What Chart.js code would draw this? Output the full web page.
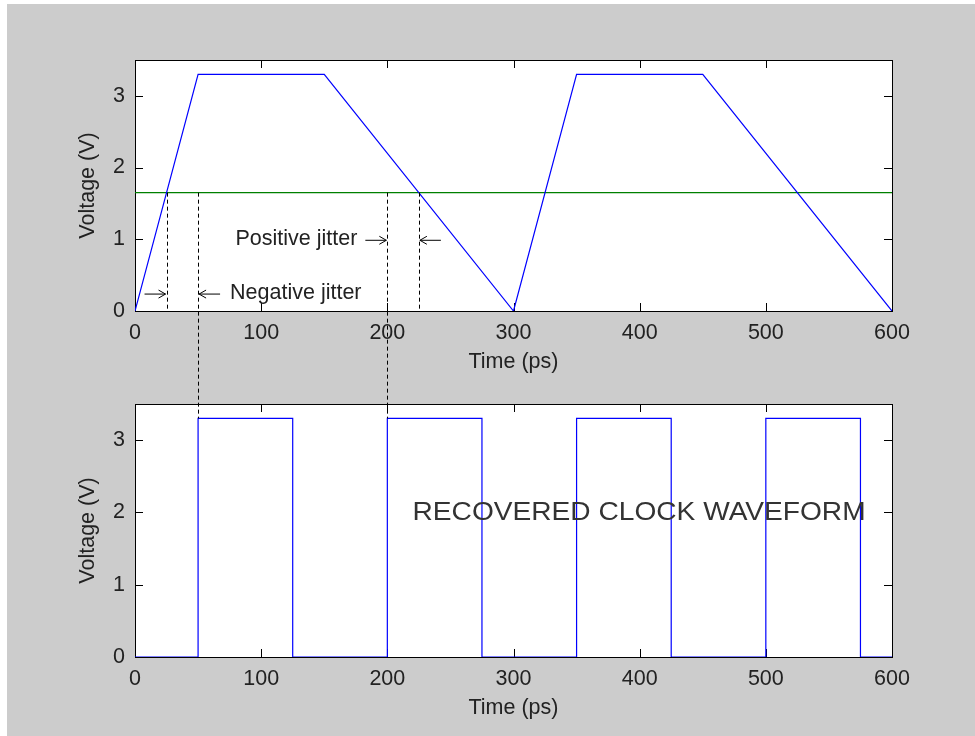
<!DOCTYPE html>
<html>
<head>
<meta charset="utf-8">
<script src="https://cdn.jsdelivr.net/npm/chart.js@4.4.1/dist/chart.umd.min.js"></script>
<style>
  html, body { margin: 0; padding: 0; background: #fff; }
  #fig { position: absolute; left: 7px; top: 4px; width: 968px; height: 732px; background: #cccccc; }
  canvas { position: absolute; left: 0; top: 0; }
</style>
</head>
<body>
<div id="fig"></div>
<canvas id="bottomChart" width="975" height="736"></canvas>
<canvas id="topChart" width="975" height="736"></canvas>
<script>
// input waveform (ps, V)
const rampT = [0, 50, 150, 300, 350, 450, 600];
const rampV = [0, 3.3, 3.3, 0, 3.3, 3.3, 0];
// decision threshold
const thresholdV = 1.65;
// recovered clock, value holds until next edge
const clockT = [0, 50, 125, 200, 275, 350, 425, 500, 575, 600];
const clockV = [0, 3.3, 0, 3.3, 0, 3.3, 0, 3.3, 0, 0];
// threshold crossings and the clock edges they are compared with
const crossT = [25, 225];
const edgeT = [50, 200];
const edgeHighV = 3.3;
// jitter labels: text, x, y
const negLabel = ["Negative jitter", 50, 0.25];
const posLabel = ["Positive jitter", 200, 1];
const clockLabel = ["RECOVERED CLOCK WAVEFORM", 220, 2];

const xTicks = [0, 100, 200, 300, 400, 500, 600];
const yTicks = [0, 1, 2, 3];

const FAMILY = "'Liberation Sans', Arial, sans-serif";
const FONT = { family: FAMILY, size: 21.5 };
const INK = "#222";

function pts(xs, ys) {
  return xs.map((x, i) => ({ x: x, y: ys[i] }));
}

// white plot box, black frame, inward ticks on all four sides (matlab look)
const frame = {
  id: "frame",
  beforeDatasetsDraw(chart) {
    const { ctx, chartArea: a, scales } = chart;
    ctx.save();
    ctx.fillStyle = "#fff";
    ctx.fillRect(a.left, a.top, a.right - a.left, a.bottom - a.top);
    ctx.strokeStyle = "#000";
    ctx.lineWidth = 1;
    ctx.beginPath();
    xTicks.forEach(v => {
      const px = Math.round(scales.x.getPixelForValue(v)) + 0.5;
      ctx.moveTo(px, a.bottom); ctx.lineTo(px, a.bottom - 8);
      ctx.moveTo(px, a.top); ctx.lineTo(px, a.top + 8);
    });
    yTicks.forEach(v => {
      const py = Math.round(scales.y.getPixelForValue(v)) + 0.5;
      ctx.moveTo(a.left, py); ctx.lineTo(a.left + 8, py);
      ctx.moveTo(a.right, py); ctx.lineTo(a.right - 8, py);
    });
    ctx.stroke();
    ctx.strokeRect(Math.round(a.left) + 0.5, Math.round(a.top) + 0.5,
      Math.round(a.right - a.left), Math.round(a.bottom - a.top));
    ctx.restore();
  }
};

function arrow(ctx, x0, x1, y) {
  const dir = Math.sign(x1 - x0);
  ctx.beginPath();
  ctx.moveTo(x0, y); ctx.lineTo(x1, y);
  ctx.moveTo(x1 - dir * 7, y - 4); ctx.lineTo(x1, y); ctx.lineTo(x1 - dir * 7, y + 4);
  ctx.stroke();
}

function makeOptions(padTop, padBottom) {
  return {
    responsive: false,
    animation: false,
    devicePixelRatio: 1,
    layout: { padding: { left: 75, right: 83, top: padTop, bottom: padBottom } },
    plugins: { legend: { display: false }, tooltip: { enabled: false } },
    scales: {
      x: {
        type: "linear", min: 0, max: 600,
        afterBuildTicks: s => { s.ticks = xTicks.map(v => ({ value: v })); },
        afterFit: s => { s.height = 64; },
        grid: { display: false, drawTicks: false },
        border: { display: false },
        ticks: { font: FONT, color: INK, padding: 9, maxRotation: 0, autoSkip: false },
        title: { display: true, text: "Time (ps)", font: FONT, color: INK, padding: 0 }
      },
      y: {
        type: "linear", min: 0, max: 3.5,
        afterBuildTicks: s => { s.ticks = yTicks.map(v => ({ value: v })); },
        afterFit: s => { s.width = 60; },
        grid: { display: false, drawTicks: false },
        border: { display: false },
        ticks: { font: FONT, color: INK, padding: 10 },
        title: { display: true, text: "Voltage (V)", font: FONT, color: INK, padding: 0 }
      }
    }
  };
}

// bottom: recovered clock
const clockText = {
  id: "clockText",
  afterDatasetsDraw(chart) {
    const { ctx, scales } = chart;
    const x = scales.x.getPixelForValue(clockLabel[1]);
    const y = scales.y.getPixelForValue(clockLabel[2]);
    ctx.save();
    ctx.font = "25px " + FAMILY;
    ctx.fillStyle = "#333";
    ctx.textBaseline = "middle";
    const w = ctx.measureText(clockLabel[0]).width;
    ctx.translate(x, y);
    ctx.scale(453 / w, 1);
    ctx.fillText(clockLabel[0], 0, 1);
    ctx.restore();
  }
};

const bottomChart = new Chart(document.getElementById("bottomChart"), {
  type: "line",
  data: {
    datasets: [{
      data: pts(clockT, clockV),
      borderColor: "#0000ff", borderWidth: 1.2, pointRadius: 0, stepped: "before", fill: false
    }]
  },
  options: makeOptions(404, 15),
  plugins: [frame, clockText]
});

// top: input waveform, threshold, jitter annotations
const jitter = {
  id: "jitter",
  afterDraw(chart) {
    const { ctx, scales } = chart;
    const X = v => scales.x.getPixelForValue(v);
    const Y = v => scales.y.getPixelForValue(v);
    const yTh = Y(thresholdV);
    const yZero = Y(0);
    const yClock = bottomChart.scales.y.getPixelForValue(edgeHighV);
    ctx.save();
    ctx.strokeStyle = "#000";
    ctx.lineWidth = 1;
    ctx.setLineDash([4, 3]);
    ctx.beginPath();
    crossT.forEach(t => {
      const px = Math.round(X(t)) + 0.5;
      ctx.moveTo(px, yTh); ctx.lineTo(px, yZero);
    });
    edgeT.forEach(t => {
      const px = Math.round(X(t)) + 0.5;
      ctx.moveTo(px, yTh); ctx.lineTo(px, yClock);
    });
    ctx.stroke();
    ctx.setLineDash([]);

    ctx.font = FONT.size + "px " + FAMILY;
    ctx.fillStyle = INK;
    ctx.textBaseline = "middle";

    // negative jitter: threshold crossing before the clock edge
    const yn = Y(negLabel[2]);
    arrow(ctx, X(crossT[0]) - 22, X(crossT[0]) - 1, yn + 1);
    arrow(ctx, X(negLabel[1]) + 22, X(negLabel[1]) + 1, yn + 1);
    ctx.textAlign = "left";
    ctx.fillText(negLabel[0], X(negLabel[1]) + 32, yn);

    // positive jitter: threshold crossing after the clock edge
    const yp = Y(posLabel[2]);
    arrow(ctx, X(posLabel[1]) - 22, X(posLabel[1]) - 1, yp + 1);
    arrow(ctx, X(crossT[1]) + 22, X(crossT[1]) + 1, yp + 1);
    ctx.textAlign = "right";
    ctx.fillText(posLabel[0], X(posLabel[1]) - 30, yp);
    ctx.restore();
  }
};

new Chart(document.getElementById("topChart"), {
  type: "line",
  data: {
    datasets: [
      {
        data: pts(rampT, rampV),
        borderColor: "#0000ff", borderWidth: 1.2, pointRadius: 0, fill: false
      },
      {
        data: pts([0, 600], [thresholdV, thresholdV]),
        borderColor: "#008000", borderWidth: 1.2, pointRadius: 0, fill: false
      }
    ]
  },
  options: makeOptions(60, 361),
  plugins: [frame, jitter]
});
</script>
</body>
</html>
